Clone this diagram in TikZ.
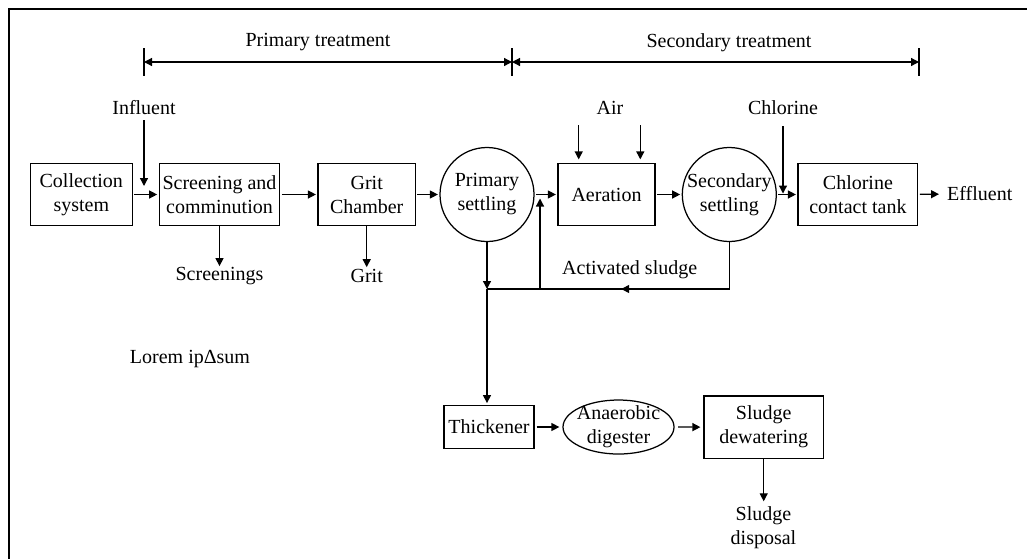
\documentclass[tikz,border=0pt]{standalone}
\usepackage{fontspec}
\setmainfont{Liberation Serif}
\usetikzlibrary{arrows.meta,shapes.geometric,decorations.markings}

\begin{document}
\begin{tikzpicture}[x=1pt,y=-1pt,
  font=\fontsize{20}{24}\selectfont,
  line width=1.25pt,
  tip/.tip={Triangle[length=8pt,width=8pt]},
  arr/.style={-tip},
  unit/.style={draw, rectangle, inner sep=0pt, align=center},
  tank/.style={draw, circle, inner sep=0pt, minimum size=94pt},
  lbl/.style={inner sep=0pt, align=center},
  gap/.style={shorten <=1.5pt, shorten >=1.5pt},
  midtip/.style={postaction={decorate,decoration={markings,
      mark=at position #1 with {\arrow{tip}}}}},
]
\useasboundingbox (0,0) rectangle (1027,558);

% outer frame
\draw[line width=2.6pt] (8.8,570) -- (8.8,8.8) -- (1040,8.8);

% treatment stage brackets
\coordinate (p0) at (144,62);
\coordinate (p1) at (512,62);
\coordinate (p2) at (919,62);
\foreach \c in {p0,p1,p2}
  \draw ([yshift=14pt]\c) -- ([yshift=-14pt]\c);
\draw[tip-tip] (p0) -- (p1);
\draw[tip-tip] (p1) -- (p2);
\node[lbl] (ptr) at (318,42) {Primary treatment};
\node[lbl] (str) at (729,43) {Secondary treatment};

% main treatment line
\node[unit, minimum width=102pt, minimum height=62pt] (col) at (81.3,194.5) {Collection\\system};
\node[unit, minimum width=120.4pt, minimum height=62pt] (scr) at (219.5,194.5) {Screening and\\comminution};
\node[unit, minimum width=97.3pt, minimum height=62pt] (grit) at (366.7,194.5) {Grit\\Chamber};
\node[tank, label={[lbl]center:Primary\\settling}] (prim) at (487,194.5) {};
\node[unit, minimum width=97pt, minimum height=62pt] (aer) at (606.5,194.5) {Aeration};
\node[tank, label={[lbl]center:Secondary\\settling}] (sec) at (729.3,194.5) {};
\node[unit, minimum width=119.7pt, minimum height=62pt] (chl) at (857.9,194.5) {Chlorine\\contact tank};
\node[lbl, anchor=west] (eff) at (946.5,194) {Effluent};

\draw[arr, gap] (col) -- (scr);
\draw[arr, gap] (scr) -- (grit);
\draw[arr, gap] (grit) -- (prim);
\draw[arr, gap] (prim) -- (aer);
\draw[arr, gap] (aer) -- (sec);
\draw[arr, gap] (sec) -- (chl);
\draw[arr, shorten <=1.5pt, shorten >=7.5pt] (chl) -- (eff);

% inputs from above
\node[lbl] (inf) at (144,107.5) {Influent};
\coordinate (infin) at (144,186);
\draw[arr, shorten <=5pt] (inf.south) -- (infin);

\node[lbl] (air) at (610,107.5) {Air};
\coordinate (a1) at (578.7,125);
\coordinate (a2) at (640.3,125);
\draw[arr, shorten >=3.5pt] (a1) -- (a1 |- aer.north);
\draw[arr, shorten >=3.5pt] (a2) -- (a2 |- aer.north);

\node[lbl] (cl) at (783,107.5) {Chlorine};
\coordinate (clin) at (783,193.5);
\draw[arr, shorten <=11pt] (cl.south) -- (clin);

% removed solids
\node[lbl] (scrs) at (219.5,276) {Screenings};
\node[lbl] (grits) at (366.7,275.5) {Grit};
\draw[arr, shorten >=0.5pt] (scr.south) -- (scrs.north);
\draw[arr, shorten >=1pt] (grit.south) -- (grit.south |- grits.north);

% sludge lines
\coordinate (pj) at (487,289);
\coordinate (rj) at (540,289);
\draw[midtip=155pt] (sec.south) |- (pj);
\node[lbl] (act) at (629.7,270) {Activated sludge};
\draw[arr, shorten >=4pt] (rj) -- (rj |- prim.east);
\draw[arr] (prim.south) -- (pj);

% sludge treatment
\node[unit, minimum width=90pt, minimum height=42.6pt] (thick) at (489,427) {Thickener};
\node[draw, ellipse, inner sep=0pt, minimum width=111pt, minimum height=54pt,
      label={[lbl]center:Anaerobic\\digester}] (dig) at (618.5,427) {};
\node[unit, minimum width=119.3pt, minimum height=62.3pt] (dew) at (763.7,427.2) {Sludge\\dewatering};
\node[lbl] (disp) at (763.5,528) {Sludge\\disposal};

\draw[arr, shorten >=2pt] (pj) -- (pj |- thick.north);
\draw[arr, shorten <=2pt, shorten >=3pt] (thick) -- (dig);
\draw[arr, shorten <=3.5pt, shorten >=3pt] (dig) -- (dew);
\draw[arr, shorten >=5pt] (dew.south) -- (dew.south |- disp.north);

\node[lbl] (lorem) at (190,359) {Lorem ipΔsum};
\end{tikzpicture}
\end{document}
